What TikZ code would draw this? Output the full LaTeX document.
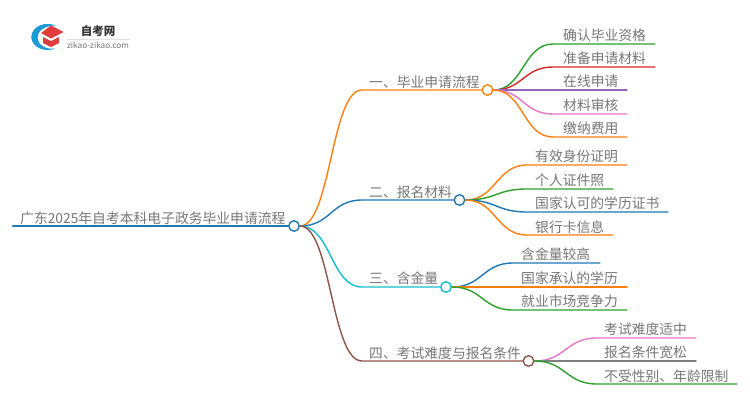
\documentclass[tikz,border=0pt]{standalone}
\usepackage{fontspec}
\setmainfont{Noto Sans CJK SC}
\usetikzlibrary{calc}
\definecolor{cOrange}{HTML}{FF7F0E}
\definecolor{cBlue}{HTML}{1F77B4}
\definecolor{cCyan}{HTML}{17BECF}
\definecolor{cBrown}{HTML}{8C564B}
\definecolor{cGreen}{HTML}{2CA02C}
\definecolor{cRed}{HTML}{D62728}
\definecolor{cPurple}{HTML}{9467BD}
\definecolor{cPink}{HTML}{E377C2}
\definecolor{cGray}{HTML}{7F7F7F}
\definecolor{cText}{HTML}{777777}
\definecolor{cLogo}{HTML}{1E9BD7}
\definecolor{cCap}{HTML}{E23B3B}
\tikzset{
  lbl/.style={anchor=west,inner sep=0pt,text=cText,font=\fontsize{13.8pt}{14pt}\selectfont},
  hub/.style={circle,draw=#1,fill=white,line width=1.4pt,minimum size=10.5pt,inner sep=0pt},
  wire/.style={draw=#1,line width=1.4pt,line cap=round}
}
% colour, start, knee, end
\newcommand\linkcurve[4]{\draw[wire=#1] (#2) .. controls ($(#2)!.5!(#2 -| #3)$) and ($(#3)!.5!(#3 -| #2)$) .. (#3) -- (#4);}
\begin{document}
\begin{tikzpicture}[x=1pt,y=-1pt]
\useasboundingbox (0,0) rectangle (750,410);
\fill[white] (0,0) rectangle (750,410);
% logo
\fill[cLogo] (56,25.5) .. controls (40,20) and (30,30) .. (31.5,39) .. controls (33,47) and (44,53) .. (56,48.5) .. controls (46,50) and (38,45) .. (37.5,38) .. controls (37,31) and (45,25.5) .. (56,25.5) -- cycle;
\fill[cCap] (51,25.5) -- (63.5,32) -- (51,38.5) -- (41,33) -- cycle;
\fill[cCap] (43,37) -- (51,41) -- (59,37) -- (59,43) -- (51,47) -- (43,43) -- cycle;
\node[inner sep=0pt,text=black!80,font=\fontsize{11.5pt}{12pt}\selectfont\bfseries] (logoA) at (98,31) {自考网};
\node[inner sep=0pt,text=cText,font=\fontsize{8.2pt}{9pt}\selectfont] (logoB) at (98,45) {zikao-zikao.com};
\draw[black!12,line width=.6pt] (67,39) -- (130,39);
% knee and end points
\coordinate (rootL) at (13,226);
\coordinate (k1) at (362,90);
\coordinate (k2) at (362,200);
\coordinate (k3) at (362,287);
\coordinate (k4) at (362,361);
\coordinate (a1k) at (553,44);  \coordinate (a1e) at (655,44);
\coordinate (a2k) at (553,67);  \coordinate (a2e) at (655,67);
\coordinate (a3k) at (553,90);  \coordinate (a3e) at (627,90);
\coordinate (a4k) at (553,114); \coordinate (a4e) at (627,114);
\coordinate (a5k) at (553,137); \coordinate (a5e) at (627,137);
\coordinate (b1k) at (527,165); \coordinate (b1e) at (627,165);
\coordinate (b2k) at (527,189); \coordinate (b2e) at (613,189);
\coordinate (b3k) at (527,212); \coordinate (b3e) at (668,212);
\coordinate (b4k) at (527,235); \coordinate (b4e) at (613,235);
\coordinate (c1k) at (513,263); \coordinate (c1e) at (600,263);
\coordinate (c2k) at (513,287); \coordinate (c2e) at (627,287);
\coordinate (c3k) at (513,310); \coordinate (c3e) at (627,310);
\coordinate (d1k) at (597,338); \coordinate (d1e) at (696,338);
\coordinate (d2k) at (597,361); \coordinate (d2e) at (696,361);
\coordinate (d3k) at (597,384); \coordinate (d3e) at (737,384);
% hubs (invisible position first, drawn over the wires below)
\path (294,226) coordinate (rootC) (487.5,90) coordinate (h1C) (459.5,200) coordinate (h2C) (446,287) coordinate (h3C) (528.5,361) coordinate (h4C);
\node[hub=cBlue] (root) at (rootC) {};
\node[hub=cOrange] (h1) at (h1C) {};
\node[hub=cBlue] (h2) at (h2C) {};
\node[hub=cCyan] (h3) at (h3C) {};
\node[hub=cBrown] (h4) at (h4C) {};
% connectors
\draw[wire=cBlue,line width=2.4pt] (rootL) -- (root.west);
\linkcurve{cOrange}{root.east}{k1}{h1.west}
\linkcurve{cBlue}{root.east}{k2}{h2.west}
\linkcurve{cCyan}{root.east}{k3}{h3.west}
\linkcurve{cBrown}{root.east}{k4}{h4.west}
\linkcurve{cGreen}{h1.east}{a1k}{a1e}
\linkcurve{cRed}{h1.east}{a2k}{a2e}
\linkcurve{cPurple}{h1.east}{a3k}{a3e}
\linkcurve{cPink}{h1.east}{a4k}{a4e}
\linkcurve{cOrange}{h1.east}{a5k}{a5e}
\linkcurve{cOrange}{h2.east}{b1k}{b1e}
\linkcurve{cGreen}{h2.east}{b2k}{b2e}
\linkcurve{cBlue}{h2.east}{b3k}{b3e}
\linkcurve{cOrange}{h2.east}{b4k}{b4e}
\linkcurve{cBlue}{h3.east}{c1k}{c1e}
\linkcurve{cOrange}{h3.east}{c2k}{c2e}
\linkcurve{cGreen}{h3.east}{c3k}{c3e}
\linkcurve{cPink}{h4.east}{d1k}{d1e}
\linkcurve{cGray}{h4.east}{d2k}{d2e}
\linkcurve{cGreen}{h4.east}{d3k}{d3e}
% labels
\node[lbl] (tRoot) at (20,218) {广东2025年自考本科电子政务毕业申请流程};
\node[lbl] (t1) at (369,82) {一、毕业申请流程};
\node[lbl] (t2) at (369,192) {二、报名材料};
\node[lbl] (t3) at (369,278.5) {三、含金量};
\node[lbl] (t4) at (369,353) {四、考试难度与报名条件};
\node[lbl] (ta1) at (563,35) {确认毕业资格};
\node[lbl] (ta2) at (563,58.5) {准备申请材料};
\node[lbl] (ta3) at (563,81.5) {在线申请};
\node[lbl] (ta4) at (563,105) {材料审核};
\node[lbl] (ta5) at (563,128.5) {缴纳费用};
\node[lbl] (tb1) at (535,156) {有效身份证明};
\node[lbl] (tb2) at (535,180) {个人证件照};
\node[lbl] (tb3) at (535,203) {国家认可的学历证书};
\node[lbl] (tb4) at (535,227) {银行卡信息};
\node[lbl] (tc1) at (521,254) {含金量较高};
\node[lbl] (tc2) at (521,278) {国家承认的学历};
\node[lbl] (tc3) at (521,301.5) {就业市场竞争力};
\node[lbl] (td1) at (604,329.5) {考试难度适中};
\node[lbl] (td2) at (604,352.5) {报名条件宽松};
\node[lbl] (td3) at (604,376) {不受性别、年龄限制};
\end{tikzpicture}
\end{document}
